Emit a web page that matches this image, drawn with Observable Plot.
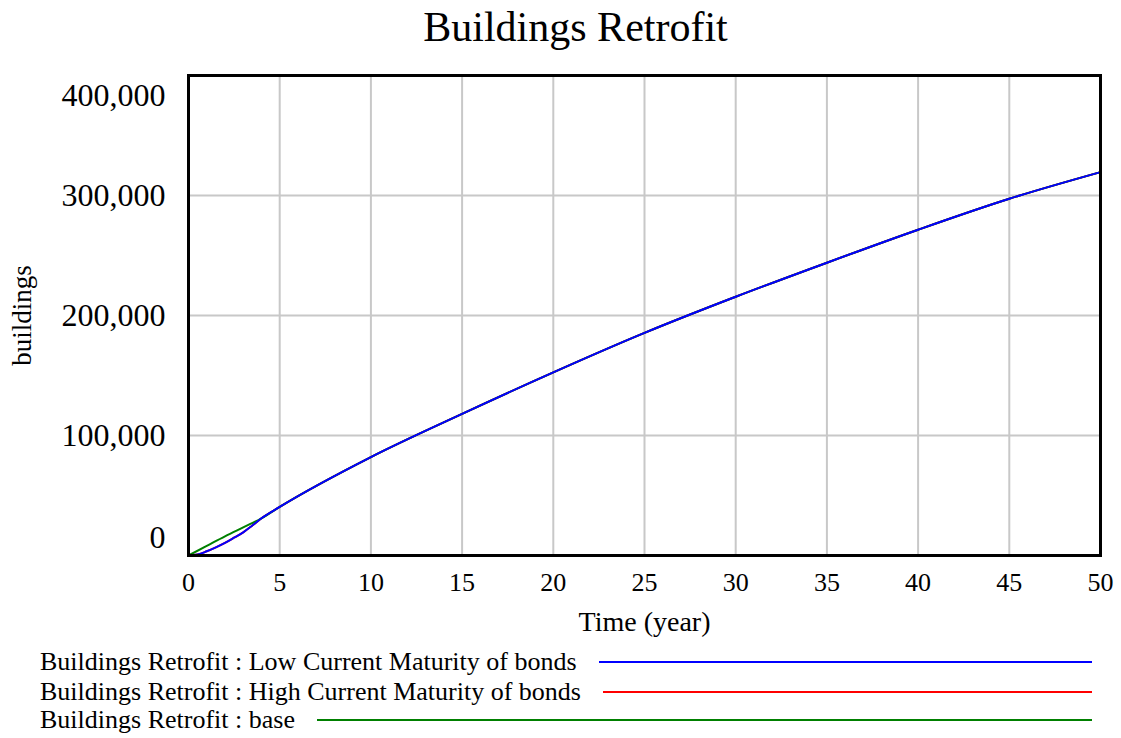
<!DOCTYPE html>
<html><head><meta charset="utf-8">
<script src="https://cdn.jsdelivr.net/npm/d3@7"></script>
<script src="https://cdn.jsdelivr.net/npm/@observablehq/plot@0.6"></script>
<style>
body{margin:0;background:#fff;font-family:"Liberation Serif","Times New Roman",serif;}
#wrap{position:relative;width:1121px;height:738px;overflow:hidden;}
#wrap svg{position:absolute;left:0;top:0;}
.leg{position:absolute;left:40px;width:1052px;height:28px;display:flex;align-items:center;font-size:26px;color:#000;white-space:nowrap;}
.leg .ln{flex:1;height:2px;margin-left:22px;}
</style></head><body><div id="wrap"></div>
<script>
// Time (year)
const years = [0, 0.5, 1, 1.5, 2, 2.5, 3, 3.5, 4, 5, 10, 15, 20, 25, 30, 35, 40, 45, 50];
// Buildings Retrofit : Low Current Maturity of bonds
const lowMaturity = [0, 800, 3500, 6800, 10500, 14800, 19300, 25000, 31000, 40500, 82000, 118000, 152600, 185500, 215600, 244000, 271500, 297300, 319500];
// Buildings Retrofit : High Current Maturity of bonds (hidden under the blue line)
const highMaturity = [0, 800, 3500, 6800, 10500, 14800, 19300, 25000, 31000, 40500, 82000, 118000, 152600, 185500, 215600, 244000, 271500, 297300, 319500];
// Buildings Retrofit : base
const baseYears = [0, 1, 2, 3, 4, 5, 10, 15, 20, 25, 30, 35, 40, 45, 50];
const baseRun = [0, 8000, 16000, 23500, 31000, 40500, 82000, 118000, 152600, 185500, 215600, 244000, 271500, 297300, 319500];

const xTicks = [0, 5, 10, 15, 20, 25, 30, 35, 40, 45, 50];
const yTicks = [0, 100000, 200000, 300000, 400000];

const series = [
  {name: "Buildings Retrofit : Low Current Maturity of bonds", color: "#0000ff", t: years, v: lowMaturity},
  {name: "Buildings Retrofit : High Current Maturity of bonds", color: "#ff0000", t: years, v: highMaturity},
  {name: "Buildings Retrofit : base", color: "#008000", t: baseYears, v: baseRun}
];
const rows = s => s.t.map((t, i) => ({t, v: s.v[i]}));
const drawOrder = [series[1], series[2], series[0]];
const fmt = d3.format(",");
const tickStyle = {frameAnchor: "left", textAnchor: "end", dx: -23, fontSize: 32, fill: "black", text: d => fmt(d), y: d => d};

const chart = Plot.plot({
  width: 1121, height: 640,
  marginLeft: 188, marginRight: 21, marginTop: 75, marginBottom: 85,
  x: {domain: [0, 50], axis: null},
  y: {domain: [0, 400000], axis: null},
  style: {fontFamily: "'Liberation Serif','Times New Roman',serif", color: "black", background: "white"},
  marks: [
    Plot.gridX(xTicks.slice(1, -1), {stroke: "#c8c8c8", strokeOpacity: 1, strokeWidth: 2}),
    Plot.gridY(yTicks.slice(1, -1), {stroke: "#c8c8c8", strokeOpacity: 1, strokeWidth: 2}),
    Plot.axisX(xTicks, {tickSize: 0, tickPadding: 17, fontSize: 26, label: null, tickFormat: d => d}),
    Plot.text(yTicks.slice(1, -1), tickStyle),
    Plot.text([yTicks[4]], {...tickStyle, dy: 20}),
    Plot.text([yTicks[0]], {...tickStyle, dy: -18}),
    ...drawOrder.map(s => Plot.line(rows(s), {x: "t", y: "v", stroke: s.color, strokeWidth: 2, curve: "monotone-x"})),
    Plot.frame({stroke: "black", strokeWidth: 3}),
    Plot.text(["Time (year)"], {frameAnchor: "bottom", dy: 75, fontSize: 28, fill: "black"}),
    Plot.text(["buildings"], {frameAnchor: "left", textAnchor: "middle", dx: -166, rotate: -90, fontSize: 27, fill: "black"}),
    Plot.text(["Buildings Retrofit"], {frameAnchor: "top", dx: -69, dy: -64, fontSize: 42, fill: "black"})
  ]
});
const wrap = document.getElementById("wrap");
wrap.appendChild(chart);
const centers = [662, 692, 720];
series.forEach((s, i) => {
  const row = document.createElement("div");
  row.className = "leg";
  row.style.top = (centers[i] - 14) + "px";
  const label = document.createElement("span");
  label.textContent = s.name;
  const ln = document.createElement("span");
  ln.className = "ln";
  ln.style.background = s.color;
  row.appendChild(label);
  row.appendChild(ln);
  wrap.appendChild(row);
});
</script></body></html>
